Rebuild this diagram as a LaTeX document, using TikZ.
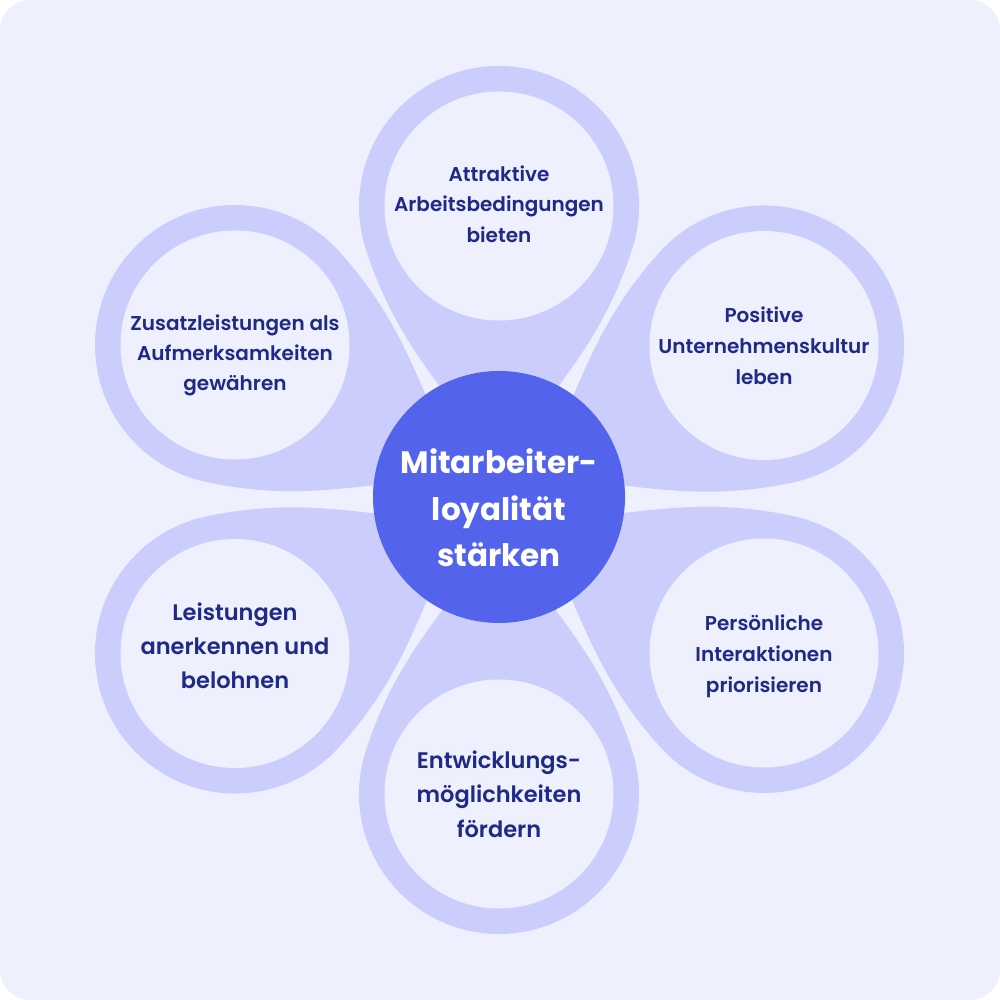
\documentclass[tikz,border=0pt]{standalone}
\usepackage{fontspec}
\setmainfont{Poppins}[UprightFont={* SemiBold}, BoldFont={* Bold}]
\usetikzlibrary{calc}

\definecolor{bgcol}{HTML}{EEF0FD}
\definecolor{petalcol}{HTML}{CBCEFD}
\definecolor{hubcol}{HTML}{5363EC}
\definecolor{textcol}{HTML}{1F2A86}

\tikzset{
  petal/.style={fill=petalcol},
  leaf/.style={fill=bgcol},
  leaftext/.style={text=textcol, align=center, inner sep=0pt},
  hub/.style={circle, fill=hubcol, minimum size=252pt, inner sep=0pt},
  hubtext/.style={text=white, align=center, font=\bfseries\fontsize{31}{46.7}\selectfont}
}

\begin{document}
\begin{tikzpicture}[x=1pt, y=1pt]

\def \outer {140}
\def \inner {114.5}
\def \tip {262}
\def \join {72}

\useasboundingbox (0,0) rectangle (1000,1000);
\fill[bgcol, rounded corners=30pt] (0,0) rectangle (1000,1000);

\foreach \x/\y/\dir in {499/794/-90, 764/654.5/210, 764/347/150, 499/206/90, 235/346.5/30, 235/655/-30}
{
  \fill[petal, shift={(\x,\y)}, rotate=\dir] (\tip,0) to[out=146, in=-18] (\join:\outer)
    arc[start angle=\join, end angle=360-\join, radius=\outer] to[out=18, in=214] (\tip,0) -- cycle;
  \fill[leaf] (\x,\y) circle (\inner);
}

\foreach \name/\x/\y/\fs/\ls/\txt in {
  attr/499/796/20/30.5/{Attraktive\\Arbeitsbedingungen\\bieten},
  kult/764/654.5/20/31/{Positive\\Unternehmenskultur\\leben},
  inter/764/344/20/31/{Persönliche\\Interaktionen\\priorisieren},
  entw/499/206/22.5/34.5/{Entwicklungs-\\möglichkeiten\\fördern},
  leist/235/354.5/22.5/34/{Leistungen\\anerkennen und\\belohnen},
  zusatz/235/645/20/30/{Zusatzleistungen als\\Aufmerksamkeiten\\gewähren}}
{
  \node (\name) [leaftext, font=\fontsize{\fs}{\ls}\selectfont] at (\x,\y) {\txt};
}

\node (hub) [hub] at (499,503) {};
\node (hubtext) [hubtext, yshift=-11pt] at (hub) {Mitarbeiter-\\loyalität\\stärken};

\end{tikzpicture}
\end{document}
